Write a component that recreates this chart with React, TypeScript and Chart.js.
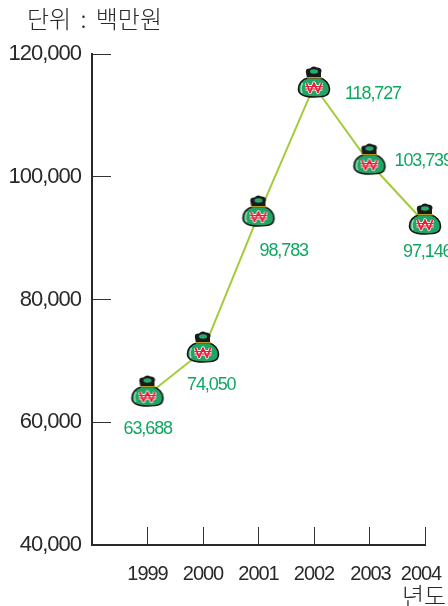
import React, { useEffect, useRef } from "react";
import { Chart, registerables } from "chart.js";

Chart.register(...registerables);

const years = [1999, 2000, 2001, 2002, 2003, 2004];
const plottedValues = [64440, 71610, 93770, 114790, 102240, 92465];
const valueLabels = ["63,688", "74,050", "98,783", "118,727", "103,739", "97,146"];
const yTicks = [40000, 60000, 80000, 100000, 120000];
const unitTitle = "단위 : 백만원";
const xTitle = "년도";

const INK = "#2b2829";
const LABEL_GREEN = "#10a860";
const LINE_GREEN = "#a3cc3c";
const LATIN = '"Liberation Sans", Arial, sans-serif';
const HANGUL = '"Noto Sans CJK KR", "Noto Sans", sans-serif';
const labelDx = [-24, -16, 1, 31, 25, -22];
const labelDy = [34, 34, 36, 8, -2, 29];
const yearLabelNudge = [0, 0, 0, 0, 1, -4];

function makeBag(): HTMLCanvasElement {
  const c = document.createElement("canvas");
  c.width = 36;
  c.height = 40;
  const g = c.getContext("2d")!;
  // knot
  g.fillStyle = "#1a1a1a";
  g.beginPath();
  g.moveTo(10, 7);
  g.quadraticCurveTo(9, 2, 14, 2.5);
  g.quadraticCurveTo(17, -1, 21, 1.5);
  g.quadraticCurveTo(27, 2, 25, 7);
  g.lineTo(25, 12);
  g.lineTo(11, 12);
  g.closePath();
  g.fill();
  g.fillStyle = "#26ad6c";
  g.beginPath();
  g.ellipse(18, 5.5, 4, 2.2, 0, 0, Math.PI * 2);
  g.fill();
  // body
  g.beginPath();
  g.moveTo(12, 12);
  g.bezierCurveTo(6, 13, 2.5, 18, 2.5, 23);
  g.bezierCurveTo(2.5, 29, 8, 31, 18, 31);
  g.bezierCurveTo(28, 31, 33.5, 30, 33.5, 23);
  g.bezierCurveTo(33.5, 18, 29, 13, 24, 12);
  g.closePath();
  g.fillStyle = "#1fa665";
  g.fill();
  g.lineWidth = 1.6;
  g.strokeStyle = "#161616";
  g.stroke();
  // tie
  g.fillStyle = "#b59a2c";
  g.fillRect(11, 11, 15, 1.5);
  // highlight
  g.strokeStyle = "#a7e0b8";
  g.lineWidth = 1.4;
  g.beginPath();
  g.moveTo(6.5, 17);
  g.quadraticCurveTo(4, 22, 6, 27);
  g.stroke();
  // won sign with pale halo
  g.lineJoin = "round";
  g.lineCap = "butt";
  const won = (w: number, bar: number) => {
    g.lineWidth = w;
    g.beginPath();
    g.moveTo(10.5, 17);
    g.lineTo(14, 26.5);
    g.lineTo(18, 17);
    g.lineTo(22, 26.5);
    g.lineTo(25.5, 17);
    g.stroke();
    g.lineWidth = bar;
    g.beginPath();
    g.moveTo(9.5, 20.5);
    g.lineTo(26.5, 20.5);
    g.moveTo(9.5, 23);
    g.lineTo(26.5, 23);
    g.stroke();
  };
  g.strokeStyle = "#f6eef0";
  won(3.4, 2.8);
  g.strokeStyle = "#ee1c36";
  won(1.7, 1.1);
  return c;
}

const textPlugin = {
  id: "chartText",
  afterLayout(chart: any) {
    chart.scales.x.getLabelItems().forEach((item: any, i: number) => {
      item.options.translation[0] += yearLabelNudge[i];
    });
  },
  beforeDraw(chart: any) {
    chart.ctx.letterSpacing = "-1px";
  },
  afterDatasetsDraw(chart: any) {
    const { ctx } = chart;
    const pts = chart.getDatasetMeta(0).data;
    ctx.save();
    ctx.letterSpacing = "-1.1px";
    ctx.font = `18px ${LATIN}`;
    ctx.fillStyle = LABEL_GREEN;
    ctx.textAlign = "left";
    ctx.textBaseline = "middle";
    valueLabels.forEach((t, i) => {
      ctx.fillText(t, pts[i].x + labelDx[i], pts[i].y + labelDy[i]);
    });
    ctx.letterSpacing = "0px";
    ctx.fillStyle = INK;
    ctx.font = `300 24px ${HANGUL}`;
    ctx.wordSpacing = "4px";
    ctx.fillText(unitTitle, 27, 19);
    ctx.wordSpacing = "0px";
    ctx.fillText(xTitle, 402, 596);
    ctx.restore();
  },
};

export default function App() {
  const ref = useRef<HTMLCanvasElement>(null);
  useEffect(() => {
    document.body.style.margin = "0";
    document.body.style.background = "#fff";
    const bag = makeBag();
    const chart = new Chart(ref.current!, {
      type: "line",
      data: {
        datasets: [
          {
            data: years.map((y, i) => ({ x: y, y: plottedValues[i] })),
            borderColor: LINE_GREEN,
            borderWidth: 2,
            tension: 0,
            clip: false,
            pointStyle: bag as any,
            pointRadius: 18,
          },
        ],
      },
      options: {
        responsive: false,
        animation: false,
        layout: { padding: { top: 54, right: 23, bottom: 0, left: 0 } },
        plugins: { legend: { display: false }, tooltip: { enabled: false } },
        scales: {
          x: {
            type: "linear",
            min: 1998,
            max: 2004,
            afterBuildTicks: (s: any) => {
              s.ticks = years.map((value) => ({ value }));
            },
            afterFit: (s: any) => {
              s.height = 61;
              s.paddingLeft = 0;
              s.paddingRight = 0;
            },
            border: { color: INK, width: 2 },
            grid: { drawOnChartArea: false, color: "#333", lineWidth: 1, tickLength: -18 },
            ticks: {
              autoSkip: false,
              maxRotation: 0,
              padding: 35,
              color: INK,
              font: { family: LATIN, size: 20 },
              callback: (v: any) => String(v),
            },
          },
          y: {
            min: 40000,
            max: 120000,
            afterBuildTicks: (s: any) => {
              s.ticks = yTicks.map((value) => ({ value }));
            },
            afterFit: (s: any) => {
              s.width = 92;
            },
            border: { color: INK, width: 2 },
            grid: { drawOnChartArea: false, color: "#333", lineWidth: 1, tickLength: -19 },
            ticks: {
              padding: 30,
              color: INK,
              font: { family: LATIN, size: 22 },
              callback: (v: any) => Number(v).toLocaleString("en-US"),
            },
          },
        },
      },
      plugins: [textPlugin],
    } as any);
    return () => chart.destroy();
  }, []);
  return <canvas ref={ref} width={448} height={606} style={{ display: "block" }} />;
}
